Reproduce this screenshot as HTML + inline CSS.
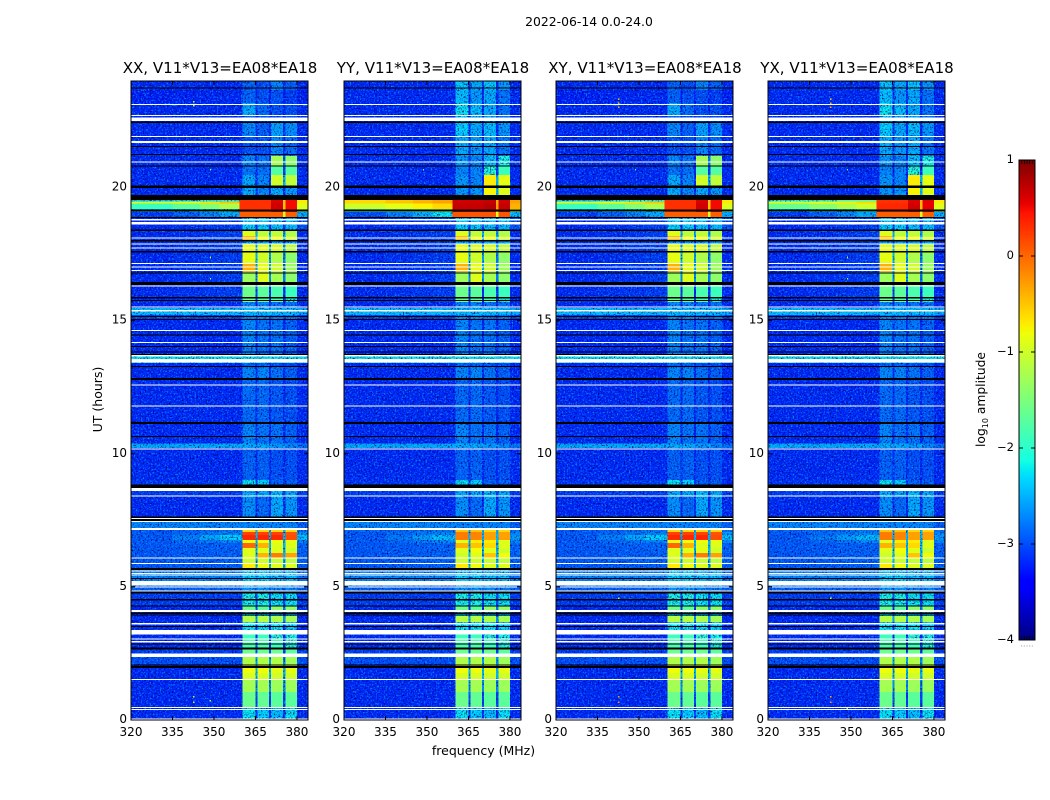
<!DOCTYPE html>
<html><head><meta charset="utf-8"><title>2022-06-14 0.0-24.0</title>
<style>
html,body{margin:0;padding:0;background:#fff}
svg{display:block}
text{font-family:"DejaVu Sans","Liberation Sans",sans-serif;fill:#000}
</style></head>
<body>
<svg id="fig" xmlns="http://www.w3.org/2000/svg" width="1050" height="800" viewBox="0 0 1050 800">
<defs>
<filter id="noise-dark" x="0" y="0" width="100%" height="100%" color-interpolation-filters="sRGB">
<feTurbulence type="fractalNoise" baseFrequency="0.62" numOctaves="2" seed="4"/>
<feColorMatrix type="matrix" values="0 0 0 0 0  0 0 0 0 0  0 0 0 0 0.45  3.4 0 0 0 -1.7"/>
</filter>
<filter id="noise-light" x="0" y="0" width="100%" height="100%" color-interpolation-filters="sRGB">
<feTurbulence type="fractalNoise" baseFrequency="0.58" numOctaves="2" seed="11"/>
<feColorMatrix type="matrix" values="0 0 0 0 0  0 0 0 0 0.6  0 0 0 0 1  0 3.2 0 0 -1.65"/>
</filter>
</defs>
<text x="589" y="26" font-size="12.4" text-anchor="middle">2022-06-14 0.0-24.0</text>
<text x="483.5" y="755" font-size="12.5" text-anchor="middle">frequency (MHz)</text>
<text transform="translate(102,399.5) rotate(-90)" font-size="12.5" text-anchor="middle">UT (hours)</text>
<text transform="translate(985,399.5) rotate(-90)" font-size="12.3" text-anchor="middle">log<tspan font-size="8" dy="3">10</tspan><tspan dy="-3"> amplitude</tspan></text>
<g id="panels"></g>
<g id="colorbar"></g>
</svg>
<script>
// ---- categories and tick labels ----
const panelNames = ['XX', 'YY', 'XY', 'YX'];
const xTicks = [320, 335, 350, 365, 380];
const yTicks = [0, 5, 10, 15, 20];
const cbTicks = [-4, -3, -2, -1, 0, 1];

// ---- frequency columns (MHz) ----
const colEdges = [320, 335, 345, 352, 359.2, 360.4, 365.1, 365.8, 369.9, 370.7, 375, 375.8, 380.1, 384];
// level each column reads: 0 left, 1 mid, 2..5 bands, 6 right; 'a','b' blends of left and mid, 'e' band edge, 'g..' gaps
const colSource = [0, 'a', 'b', 1, 'e', 2, 'g23', 3, 'g34', 4, 'g45', 5, 6];
const gapDrop = 1.4;

// ---- UT row tops (hours) ----
const rowTops = [24.0,23.66,23.17,22.72,22.42,21.93,21.18,20.81,20.47,20.02,19.53,19.47,19.39,19.19,19.08,18.88,18.37,18.18,17.99,17.86,17.54,17.16,16.83,16.30,15.81,15.70,15.47,15.21,15.02,13.67,13.41,13.24,12.77,11.12,10.38,10.22,9.01,8.60,8.41,7.44,7.14,7.06,6.95,6.76,6.65,6.46,6.27,6.08,5.88,5.71,5.03,4.85,4.28,4.05,3.90,3.68,3.38,3.23,3.04,2.67,2.37,2.10,1.95,1.77,1.50,1.05,0.49];

// ---- log10 amplitude per row: [left, mid, band1, band2, band3, band4, right] ----
const levelsXX = [
[-3.2,-3.2,-2.9,-3.0,-2.7,-2.9,-3.2],
[-3.25,-3.2,-2.9,-3.0,-3.0,-3.1,-3.25],
[-3.2,-3.2,-2.5,-2.85,-3.0,-3.0,-3.2],
[-3.2,-3.2,-2.9,-3.0,-3.0,-3.0,-3.2],
[-3.2,-3.2,-2.7,-2.9,-2.55,-2.65,-3.2],
[-3.2,-3.2,-3.0,-3.0,-2.7,-2.85,-3.2],
[-3.2,-3.2,-2.7,-2.8,-1.25,-1.4,-3.2],
[-3.2,-3.2,-2.8,-2.8,-1.75,-1.75,-3.2],
[-3.2,-3.2,-2.5,-2.7,-1.0,-1.1,-3.2],
[-3.2,-3.2,-2.5,-2.7,-2.5,-2.6,-3.2],
[-2.3,-2.0,0.3,0.3,0.6,0.5,-0.7],
[-0.9,-0.5,0.3,0.3,0.6,0.5,-0.7],
[-1.9,-1.2,0.3,0.3,0.65,0.5,-0.9],
[-2.4,-2.0,0.25,0.25,0.55,0.5,-1.3],
[-3.1,-2.5,0.05,0.05,0.05,0.05,-2.5],
[-3.2,-3.1,-2.3,-2.3,-2.4,-2.4,-3.0],
[-3.2,-3.1,-0.9,-1.1,-1.1,-1.2,-3.2],
[-3.2,-3.1,-0.45,-0.85,-0.85,-1.0,-3.2],
[-3.2,-3.1,-2.5,-2.5,-2.5,-2.5,-3.2],
[-3.2,-3.1,-0.85,-0.9,-0.95,-1.1,-3.2],
[-3.2,-3.1,-0.85,-1.0,-1.2,-1.4,-3.2],
[-3.2,-3.1,-0.4,-0.85,-1.0,-1.3,-3.2],
[-3.2,-3.1,-1.3,-0.9,-1.25,-1.4,-3.2],
[-3.2,-3.1,-1.6,-1.7,-1.8,-1.9,-3.2],
[-3.2,-3.1,-1.6,-1.7,-1.8,-2.0,-3.2],
[-3.2,-3.2,-2.7,-2.7,-2.8,-2.8,-3.2],
[-2.4,-2.4,-2.4,-2.4,-2.4,-2.4,-2.5],
[-3.1,-3.1,-2.7,-2.7,-2.8,-2.8,-3.1],
[-3.2,-3.2,-2.7,-2.8,-2.8,-2.9,-3.2],
[-2.2,-2.2,-2.2,-2.2,-2.2,-2.2,-2.2],
[-3.2,-3.2,-2.9,-2.9,-3.0,-3.0,-3.2],
[-3.2,-3.2,-2.7,-2.7,-2.8,-2.9,-3.2],
[-3.2,-3.2,-2.85,-2.85,-2.95,-3.0,-3.2],
[-3.2,-3.2,-2.7,-2.8,-2.8,-2.9,-3.2],
[-2.5,-2.5,-2.5,-2.5,-2.6,-2.7,-2.8],
[-3.2,-3.2,-2.9,-2.9,-3.0,-3.0,-3.2],
[-3.15,-3.1,-2.2,-2.3,-2.9,-2.9,-3.2],
[-3.1,-3.1,-2.5,-2.5,-2.4,-2.5,-3.1],
[-3.2,-3.2,-2.65,-2.85,-2.5,-2.6,-3.2],
[-2.7,-2.7,-2.7,-2.7,-2.7,-2.7,-2.9],
[-2.95,-2.8,-0.6,-0.6,-0.6,-0.6,-2.8],
[-2.95,-2.7,0.2,0.2,0.2,0.1,-2.6],
[-2.95,-2.3,0.35,0.35,0.35,0.15,-2.4],
[-2.95,-2.7,-0.8,-0.8,-0.8,-0.85,-2.7],
[-2.95,-2.9,0.0,-0.4,-0.9,-0.9,-2.9],
[-2.95,-2.9,-0.9,-0.9,-0.9,-1.0,-2.9],
[-2.95,-2.9,-0.9,-0.4,-0.1,-0.3,-2.9],
[-2.95,-2.9,-1.0,-1.0,-1.05,-1.1,-2.9],
[-2.95,-2.9,-0.7,-0.8,-0.9,-0.9,-2.9],
[-2.7,-2.7,-2.3,-2.3,-2.4,-2.4,-2.8],
[-2.9,-2.9,-2.6,-2.6,-2.7,-2.7,-2.9],
[-3.1,-3.1,-2.1,-2.1,-2.2,-2.2,-3.1],
[-3.2,-3.2,-1.6,-1.7,-1.4,-1.4,-3.2],
[-3.2,-3.2,-2.2,-2.2,-2.3,-2.3,-3.2],
[-3.2,-3.2,-1.15,-1.15,-1.2,-1.25,-3.2],
[-3.2,-3.2,-2.2,-2.2,-2.2,-2.3,-3.2],
[-3.2,-3.2,-2.3,-2.3,-2.3,-2.4,-3.2],
[-3.2,-3.2,-1.9,-1.9,-2.0,-2.1,-3.2],
[-3.2,-3.2,-1.8,-1.8,-1.9,-2.0,-3.2],
[-3.1,-3.1,-1.6,-1.6,-1.6,-1.7,-3.1],
[-3.0,-3.0,-1.2,-1.2,-1.2,-1.3,-3.0],
[-3.2,-3.2,-1.0,-1.0,-1.0,-1.1,-3.2],
[-3.2,-3.2,-0.8,-0.8,-0.85,-0.85,-3.2],
[-3.2,-3.2,-0.95,-0.95,-1.0,-1.0,-3.2],
[-3.2,-3.2,-1.25,-1.25,-1.3,-1.3,-3.2],
[-3.2,-3.2,-1.6,-1.65,-1.7,-1.7,-3.2],
[-3.2,-3.2,-2.2,-2.3,-2.4,-2.2,-3.2]
];

// ---- rows that differ for the Y-feed panels (YY, YX) ----
const yFeedRowTops = [24.0,23.66,23.17,22.72,22.42,21.93,21.18,20.81,20.47,20.02,7.14,7.06,6.95,6.76,6.65,6.46,6.27];
const yFeedLevels = [
[-3.2,-3.2,-2.35,-2.5,-2.35,-2.6,-3.2],
[-3.2,-3.2,-2.4,-2.6,-2.5,-2.8,-3.2],
[-3.2,-3.2,-2.2,-2.4,-2.5,-2.8,-3.2],
[-3.2,-3.2,-2.3,-2.5,-2.5,-2.8,-3.2],
[-3.2,-3.2,-2.3,-2.5,-2.4,-2.6,-3.2],
[-3.2,-3.2,-2.5,-2.6,-2.5,-2.8,-3.2],
[-3.2,-3.2,-2.6,-2.7,-2.4,-2.1,-3.2],
[-3.2,-3.2,-2.7,-2.7,-2.0,-1.9,-3.2],
[-3.2,-3.2,-2.6,-2.7,-0.7,-0.85,-3.2],
[-3.2,-3.2,-2.6,-2.6,-0.75,-0.9,-3.2],
[-2.9,-2.8,-0.5,-0.5,-0.6,-0.6,-2.8],
[-2.95,-2.7,-0.1,-0.15,-0.3,-0.3,-2.7],
[-2.95,-2.4,-0.1,-0.15,-0.3,-0.3,-2.6],
[-2.95,-2.7,-0.9,-0.7,-0.7,-0.9,-2.7],
[-2.95,-2.9,-0.4,-0.5,-0.6,-0.9,-2.9],
[-2.95,-2.9,-0.9,-0.8,-0.9,-1.0,-2.9],
[-2.95,-2.9,-1.0,-0.9,-0.5,-0.8,-2.9]
];

// ---- interference rows near 19 UT ----
const strongRowTops = [19.53,19.47,19.39,19.19,19.08];
const yyLevels = [
[-0.6,-0.3,0.65,0.65,0.7,0.65,-0.3],
[-0.6,-0.3,0.65,0.65,0.7,0.65,-0.3],
[-1.0,-0.6,0.7,0.7,0.75,0.7,-0.4],
[-1.8,-1.3,0.65,0.65,0.7,0.65,-0.9],
[-3.0,-2.2,0.1,0.1,0.1,0.1,-2.4]
];
const yxLevels = [
[-2.0,-1.7,0.3,0.3,0.6,0.55,-0.7],
[-0.9,-0.6,0.3,0.3,0.6,0.55,-0.7],
[-1.6,-1.0,0.35,0.35,0.65,0.55,-0.9],
[-2.3,-1.9,0.3,0.3,0.6,0.55,-1.2],
[-3.1,-2.5,0.05,0.05,0.05,0.05,-2.5]
];

// ---- flagged rows: [start hour, end hour] ----
const blackRows = [[23.76,23.71],[22.48,22.42],[21.56,21.52],[21.26,21.22],[20.82,20.78],[20.07,19.98],[19.72,19.53],[19.17,19.09],[18.89,18.85],[18.43,18.37],[18.03,17.97],[17.62,17.56],[16.81,16.77],[16.46,16.33],[15.88,15.83],[15.78,15.73],[15.17,15.13],[15.06,15.02],[14.48,14.44],[14.05,14.01],[13.84,13.80],[13.75,13.69],[13.29,13.25],[12.85,12.77],[11.20,11.12],[10.67,10.63],[8.85,8.72],[7.64,7.59],[7.55,7.47],[5.70,5.63],[5.34,5.30],[4.84,4.76],[4.54,4.48],[4.30,4.26],[4.03,3.99],[3.97,3.92],[3.54,3.50],[2.87,2.84],[2.73,2.65],[2.09,2.04],[2.02,1.96]];
const whiteRows = [[23.14,23.10],[22.72,22.69],[22.62,22.50],[21.93,21.90],[21.75,21.67],[20.97,20.93],[18.82,18.76],[18.70,18.61],[18.12,18.08],[17.90,17.87],[17.74,17.71],[17.16,17.13],[17.03,17.00],[16.90,16.86],[16.32,16.28],[15.53,15.50],[15.39,15.34],[14.64,14.61],[14.19,14.16],[13.71,13.65],[13.56,13.42],[12.61,12.58],[11.82,11.79],[10.19,10.16],[8.71,8.60],[8.44,8.41],[7.58,7.56],[7.47,7.44],[7.21,7.14],[6.11,6.08],[5.89,5.86],[5.61,5.57],[5.53,5.49],[5.46,5.42],[5.23,5.06],[5.02,4.98],[4.86,4.83],[4.13,4.05],[3.65,3.59],[3.38,3.22],[3.06,3.02],[2.97,2.92],[2.50,2.37],[1.54,1.50],[0.49,0.45],[0.41,0.38],[0.06,0.02]];

// ---- isolated bright channels: [panel index, MHz, hour, level] ----
const specks = [
[0,342.4,23.25,-1.0],[0,342.4,23.1,-1.0],[2,342.4,23.35,-0.4],[2,342.4,23.2,-0.4],[2,342.4,23.05,-0.4],[3,342.4,23.35,-0.4],[3,342.4,23.2,-0.4],[3,342.4,23.05,-0.4],
[0,348.5,20.7,-1.4],[1,348.5,20.7,-1.6],[2,348.5,20.7,-1.5],[3,348.5,20.7,-1.5],
[0,348.5,17.4,-1.2],[3,348.5,17.4,-1.2],[0,348.5,16.6,-1.2],[3,348.5,16.6,-1.2],
[0,342.4,0.9,-1.0],[0,342.4,0.7,-1.0],[2,342.4,0.9,-0.3],[2,342.4,0.7,-0.3],[3,342.4,0.9,-0.3],[3,342.4,0.7,-0.3],
[0,348.4,0.75,-1.2],[3,348.4,0.45,-1.0],[2,342.4,4.6,-1.2],[3,342.4,4.6,-1.2]
];

// ---- drawing ----
const NS = 'http://www.w3.org/2000/svg';
const panelLeft = [131, 344, 556, 768];
const plotW = 177, plotTop = 81, plotBottom = 720, cbLeft = 1019, cbW = 16, cbTop = 160, cbBottom = 640;
const xMin = 320, xMax = 384, yMax = 24, cbMin = -4, cbMax = 1;

function mk(tag, attrs, parent) {
  const el = document.createElementNS(NS, tag);
  for (const k in attrs) el.setAttribute(k, attrs[k]);
  parent.appendChild(el);
  return el;
}
function ramp(t, pts) {
  for (let i = 1; i < pts.length; i++) {
    if (t <= pts[i][0]) {
      const a = pts[i - 1], b = pts[i];
      return a[1] + (b[1] - a[1]) * (t - a[0]) / (b[0] - a[0]);
    }
  }
  return pts[pts.length - 1][1];
}
function jet(v) {
  const t = Math.max(0, Math.min(1, (v - cbMin) / (cbMax - cbMin)));
  const r = ramp(t, [[0, 0], [.35, 0], [.66, 1], [.89, 1], [1, .5]]);
  const g = ramp(t, [[0, 0], [.125, 0], [.375, 1], [.64, 1], [.91, 0], [1, 0]]);
  const b = ramp(t, [[0, .5], [.11, 1], [.34, 1], [.65, 0], [1, 0]]);
  return 'rgb(' + Math.round(r * 255) + ',' + Math.round(g * 255) + ',' + Math.round(b * 255) + ')';
}
function rowLevels(p, i) {
  const top = rowTops[i];
  if (p === 1 && strongRowTops.includes(top)) return yyLevels[strongRowTops.indexOf(top)];
  if (p === 3 && strongRowTops.includes(top)) return yxLevels[strongRowTops.indexOf(top)];
  if ((p === 1 || p === 3) && yFeedRowTops.includes(top)) return yFeedLevels[yFeedRowTops.indexOf(top)];
  return levelsXX[i];
}
function cellLevel(src, lv, strong) {
  if (typeof src === 'number') return lv[src];
  if (src === 'a') return (2 * lv[0] + lv[1]) / 3;
  if (src === 'b') return (lv[0] + 2 * lv[1]) / 3;
  if (src === 'e') return strong ? lv[2] : lv[1];
  const a = lv[+src[1]], b = lv[+src[2]];
  const low = Math.min(a, b);
  if (strong) return src === 'g45' ? low - 1.0 : low;
  return Math.max(lv[0], Math.min(-2.45, low - gapDrop));
}

const root = document.getElementById('panels');
panelNames.forEach(function (name, p) {
  const left = panelLeft[p];
  const sx = function (f) { return left + (f - xMin) / (xMax - xMin) * plotW; };
  const sy = function (h) { return plotBottom - h / yMax * (plotBottom - plotTop); };
  const g = mk('g', {}, root);
  
  

  const low = mk('g', { 'shape-rendering': 'crispEdges' }, g);
  
  
  const noise1 = mk('rect', { x: left, y: plotTop, width: plotW, height: plotBottom - plotTop, filter: 'url(#noise-dark)' }, g);
  
  
  const noise2 = mk('rect', { x: left, y: plotTop, width: plotW, height: plotBottom - plotTop, filter: 'url(#noise-light)' }, g);
  
  
  const high = mk('g', { 'shape-rendering': 'crispEdges' }, g);
  
  

  rowTops.forEach(function (top, i) {
    const bottom = i + 1 < rowTops.length ? rowTops[i + 1] : 0;
    const lv = rowLevels(p, i);
    const strong = strongRowTops.includes(top);
    colSource.forEach(function (src, c) {
      const v = cellLevel(src, lv, strong);
      const x0 = sx(colEdges[c]), x1 = sx(colEdges[c + 1]);
      const cell = mk('rect', { x: x0.toFixed(2), y: sy(top).toFixed(2), width: (x1 - x0).toFixed(2), height: (sy(bottom) - sy(top)).toFixed(2), fill: jet(v) }, v < -1.9 ? low : high);
      
      
    });
  });

  specks.filter(function (s) { return s[0] === p; }).forEach(function (s) {
    const m = mk('rect', { x: sx(s[1]).toFixed(2), y: sy(s[2]).toFixed(2), width: 1.4, height: 1.6, fill: jet(s[3]), 'shape-rendering': 'crispEdges' }, g);
    
    
  });
  blackRows.forEach(function (r) {
    const m = mk('rect', { x: left, y: sy(r[0]).toFixed(2), width: plotW, height: Math.max(1, sy(r[1]) - sy(r[0])).toFixed(2), fill: '#000', 'shape-rendering': 'crispEdges' }, g);
    
    
  });
  whiteRows.forEach(function (r) {
    const m = mk('rect', { x: left, y: sy(r[0]).toFixed(2), width: plotW, height: Math.max(1, sy(r[1]) - sy(r[0])).toFixed(2), fill: '#fff', 'shape-rendering': 'crispEdges' }, g);
    
    
  });

  const frame = mk('rect', { x: left, y: plotTop, width: plotW, height: plotBottom - plotTop, fill: 'none', stroke: '#000', 'stroke-width': 1 }, g);
  
  

  xTicks.forEach(function (t) {
    const x = sx(t);
    const a = mk('line', { x1: x, x2: x, y1: plotBottom, y2: plotBottom - 4, stroke: '#000', 'stroke-width': 1 }, g);
    
    
    const b = mk('line', { x1: x, x2: x, y1: plotTop, y2: plotTop + 4, stroke: '#000', 'stroke-width': 1 }, g);
    
    
    const l = mk('text', { x: x, y: plotBottom + 16, 'font-size': 12, 'text-anchor': 'middle' }, g);
    
    
    l.textContent = t;
  });
  yTicks.forEach(function (t) {
    const y = sy(t);
    const a = mk('line', { x1: left, x2: left + 4, y1: y, y2: y, stroke: '#000', 'stroke-width': 1 }, g);
    
    
    const b = mk('line', { x1: left + plotW, x2: left + plotW - 4, y1: y, y2: y, stroke: '#000', 'stroke-width': 1 }, g);
    
    
    const l = mk('text', { x: left - 4, y: y + 3, 'font-size': 12, 'text-anchor': 'end' }, g);
    
    
    l.textContent = t;
  });
  const title = mk('text', { x: left + plotW / 2 + 0.5, y: 73, 'font-size': 15.05, 'text-anchor': 'middle' }, g);
  
  
  title.textContent = name + ', V11*V13=EA08*EA18';
});

// colorbar
const cb = document.getElementById('colorbar');
const cy = function (v) { return cbBottom - (v - cbMin) / (cbMax - cbMin) * (cbBottom - cbTop); };
for (let v = cbMin; v < cbMax; v += 0.02) {
  const s = mk('rect', { x: cbLeft, y: cy(v + 0.02).toFixed(2), width: cbW, height: (cy(v) - cy(v + 0.02) + 0.4).toFixed(2), fill: jet(v + 0.01), 'shape-rendering': 'crispEdges' }, cb);
  
  
}
const cbFrame = mk('rect', { x: cbLeft, y: cbTop, width: cbW, height: cbBottom - cbTop, fill: 'none', stroke: '#000', 'stroke-width': 1 }, cb);


for (let k = 1; k < 6; k++) {
  const x = cbLeft + k * cbW / 6;
  const tTop = mk('line', { x1: x, x2: x, y1: cbTop, y2: cbTop + 4, stroke: '#000', 'stroke-width': 0.8 }, cb);
  
  
  const tBot = mk('line', { x1: x, x2: x, y1: cbBottom, y2: cbBottom - 4, stroke: '#000', 'stroke-width': 0.8 }, cb);
  
  
  const dot = mk('rect', { x: x - 0.5, y: 645.5, width: 1, height: 1, fill: '#999' }, cb);
  
  
}
cbTicks.forEach(function (t) {
  const y = cy(t);
  const a = mk('line', { x1: cbLeft, x2: cbLeft + 4, y1: y, y2: y, stroke: '#000', 'stroke-width': 1 }, cb);
  
  
  const b = mk('line', { x1: cbLeft + cbW, x2: cbLeft + cbW - 4, y1: y, y2: y, stroke: '#000', 'stroke-width': 1 }, cb);
  
  
  const l = mk('text', { x: cbLeft - 5, y: y + 3, 'font-size': 11.5, 'text-anchor': 'end' }, cb);
  
  
  l.textContent = String(t).replace('-', '\u2212');
});
</script>
</body></html>
